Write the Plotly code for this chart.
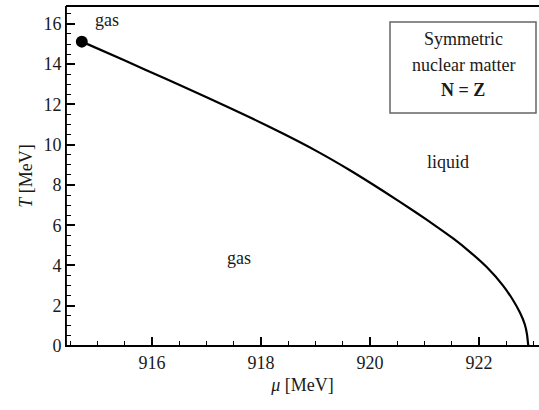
import plotly.graph_objects as go

# Phase boundary (chemical potential mu [MeV], temperature T [MeV])
mu_vals = [914.71, 915.50, 916.25, 917.00, 917.80, 918.41, 919.02, 919.63, 920.24,
           920.85, 921.22, 921.53, 921.83, 922.14, 922.44, 922.63, 922.75, 922.84,
           922.88, 922.90, 922.905]
T_vals = [15.12, 14.18, 13.27, 12.36, 11.35, 10.54, 9.68, 8.73, 7.70,
          6.62, 5.93, 5.33, 4.68, 3.92, 3.00, 2.25, 1.66, 1.07,
          0.58, 0.10, 0.0]

crit_mu = [914.71]
crit_T = [15.12]

labels = ["gas", "gas", "liquid"]
label_mu = [915.17, 917.59, 921.43]
label_T = [16.2, 4.37, 9.14]

box_lines = ["Symmetric", "nuclear matter", "<b>N = Z</b>"]

FONT = "Liberation Serif"
TXT = "#1a1a1a"
F18 = dict(family=FONT, size=18, color=TXT)
XR = [914.42, 923.10]
YR = [0, 16.89]

fig = go.Figure()
fig.add_trace(go.Scatter(x=mu_vals, y=T_vals, mode="lines",
                         line=dict(color="black", width=2.2, shape="spline", smoothing=0.6),
                         showlegend=False))
fig.add_trace(go.Scatter(x=crit_mu, y=crit_T, mode="markers",
                         marker=dict(color="black", size=12), showlegend=False))
# empty traces to register the tick-only overlay axes
fig.add_trace(go.Scatter(x=[], y=[], xaxis="x2", yaxis="y2", showlegend=False, hoverinfo="skip"))
fig.add_trace(go.Scatter(x=[], y=[], xaxis="x3", yaxis="y3", showlegend=False, hoverinfo="skip"))

for t, xm, yt in zip(labels, label_mu, label_T):
    fig.add_annotation(x=xm, y=yt, text=t, showarrow=False, xanchor="center", yanchor="middle",
                       font=F18)

fig.add_shape(type="rect", xref="paper", yref="paper",
              x0=(390 - 66) / 473, x1=(536 - 66) / 473,
              y0=(346 - 113) / 340, y1=(346 - 22) / 340,
              line=dict(color="#666", width=1.5), fillcolor="white")
for i, t in enumerate(box_lines):
    fig.add_annotation(xref="paper", yref="paper",
                       x=(463 - 66) / 473, y=(346 - (39 + 25.5 * i)) / 340,
                       text=t, showarrow=False, xanchor="center", yanchor="middle",
                       font=F18)

# frame: left, bottom and top edges of the plotting area
for (x0, y0, x1, y1) in [(0, 0, 0, 1), (0, 0, 1, 0), (0, 1, 1, 1)]:
    fig.add_shape(type="line", xref="paper", yref="paper", x0=x0, y0=y0, x1=x1, y1=y1,
                  line=dict(color="black", width=1.8))

tick_only = dict(showline=False, showgrid=False, zeroline=False, showticklabels=False,
                 ticks="inside", tickcolor="#000000")

fig.update_layout(
    width=539, height=410,
    margin=dict(l=66, r=0, t=6, b=64),
    paper_bgcolor="white", plot_bgcolor="white",
    showlegend=False,
    xaxis=dict(range=XR, dtick=2, ticks="", showline=True, linecolor="black",
               showgrid=False, zeroline=False, tickfont=F18,
               title=dict(text="<i>μ</i> [MeV]", standoff=6, font=F18)),
    yaxis=dict(range=YR, dtick=2, ticks="", showline=True, linecolor="black",
               showgrid=False, zeroline=False, tickfont=F18,
               title=dict(text="<i>T</i> [MeV]", standoff=6, font=F18)),
    # major ticks
    xaxis2=dict(range=XR, dtick=2, ticklen=9, tickwidth=1.5, overlaying="x",
                anchor="y2", side="bottom", **tick_only),
    yaxis2=dict(range=YR, dtick=2, ticklen=9, tickwidth=1.5, overlaying="y",
                anchor="x2", side="left", **tick_only),
    # minor ticks
    xaxis3=dict(range=XR, dtick=0.5, ticklen=5, tickwidth=1.2, overlaying="x",
                anchor="y3", side="bottom", **tick_only),
    yaxis3=dict(range=YR, dtick=0.5, ticklen=5, tickwidth=1.2, overlaying="y",
                anchor="x3", side="left", **tick_only),
)

fig.write_html("out.html")
